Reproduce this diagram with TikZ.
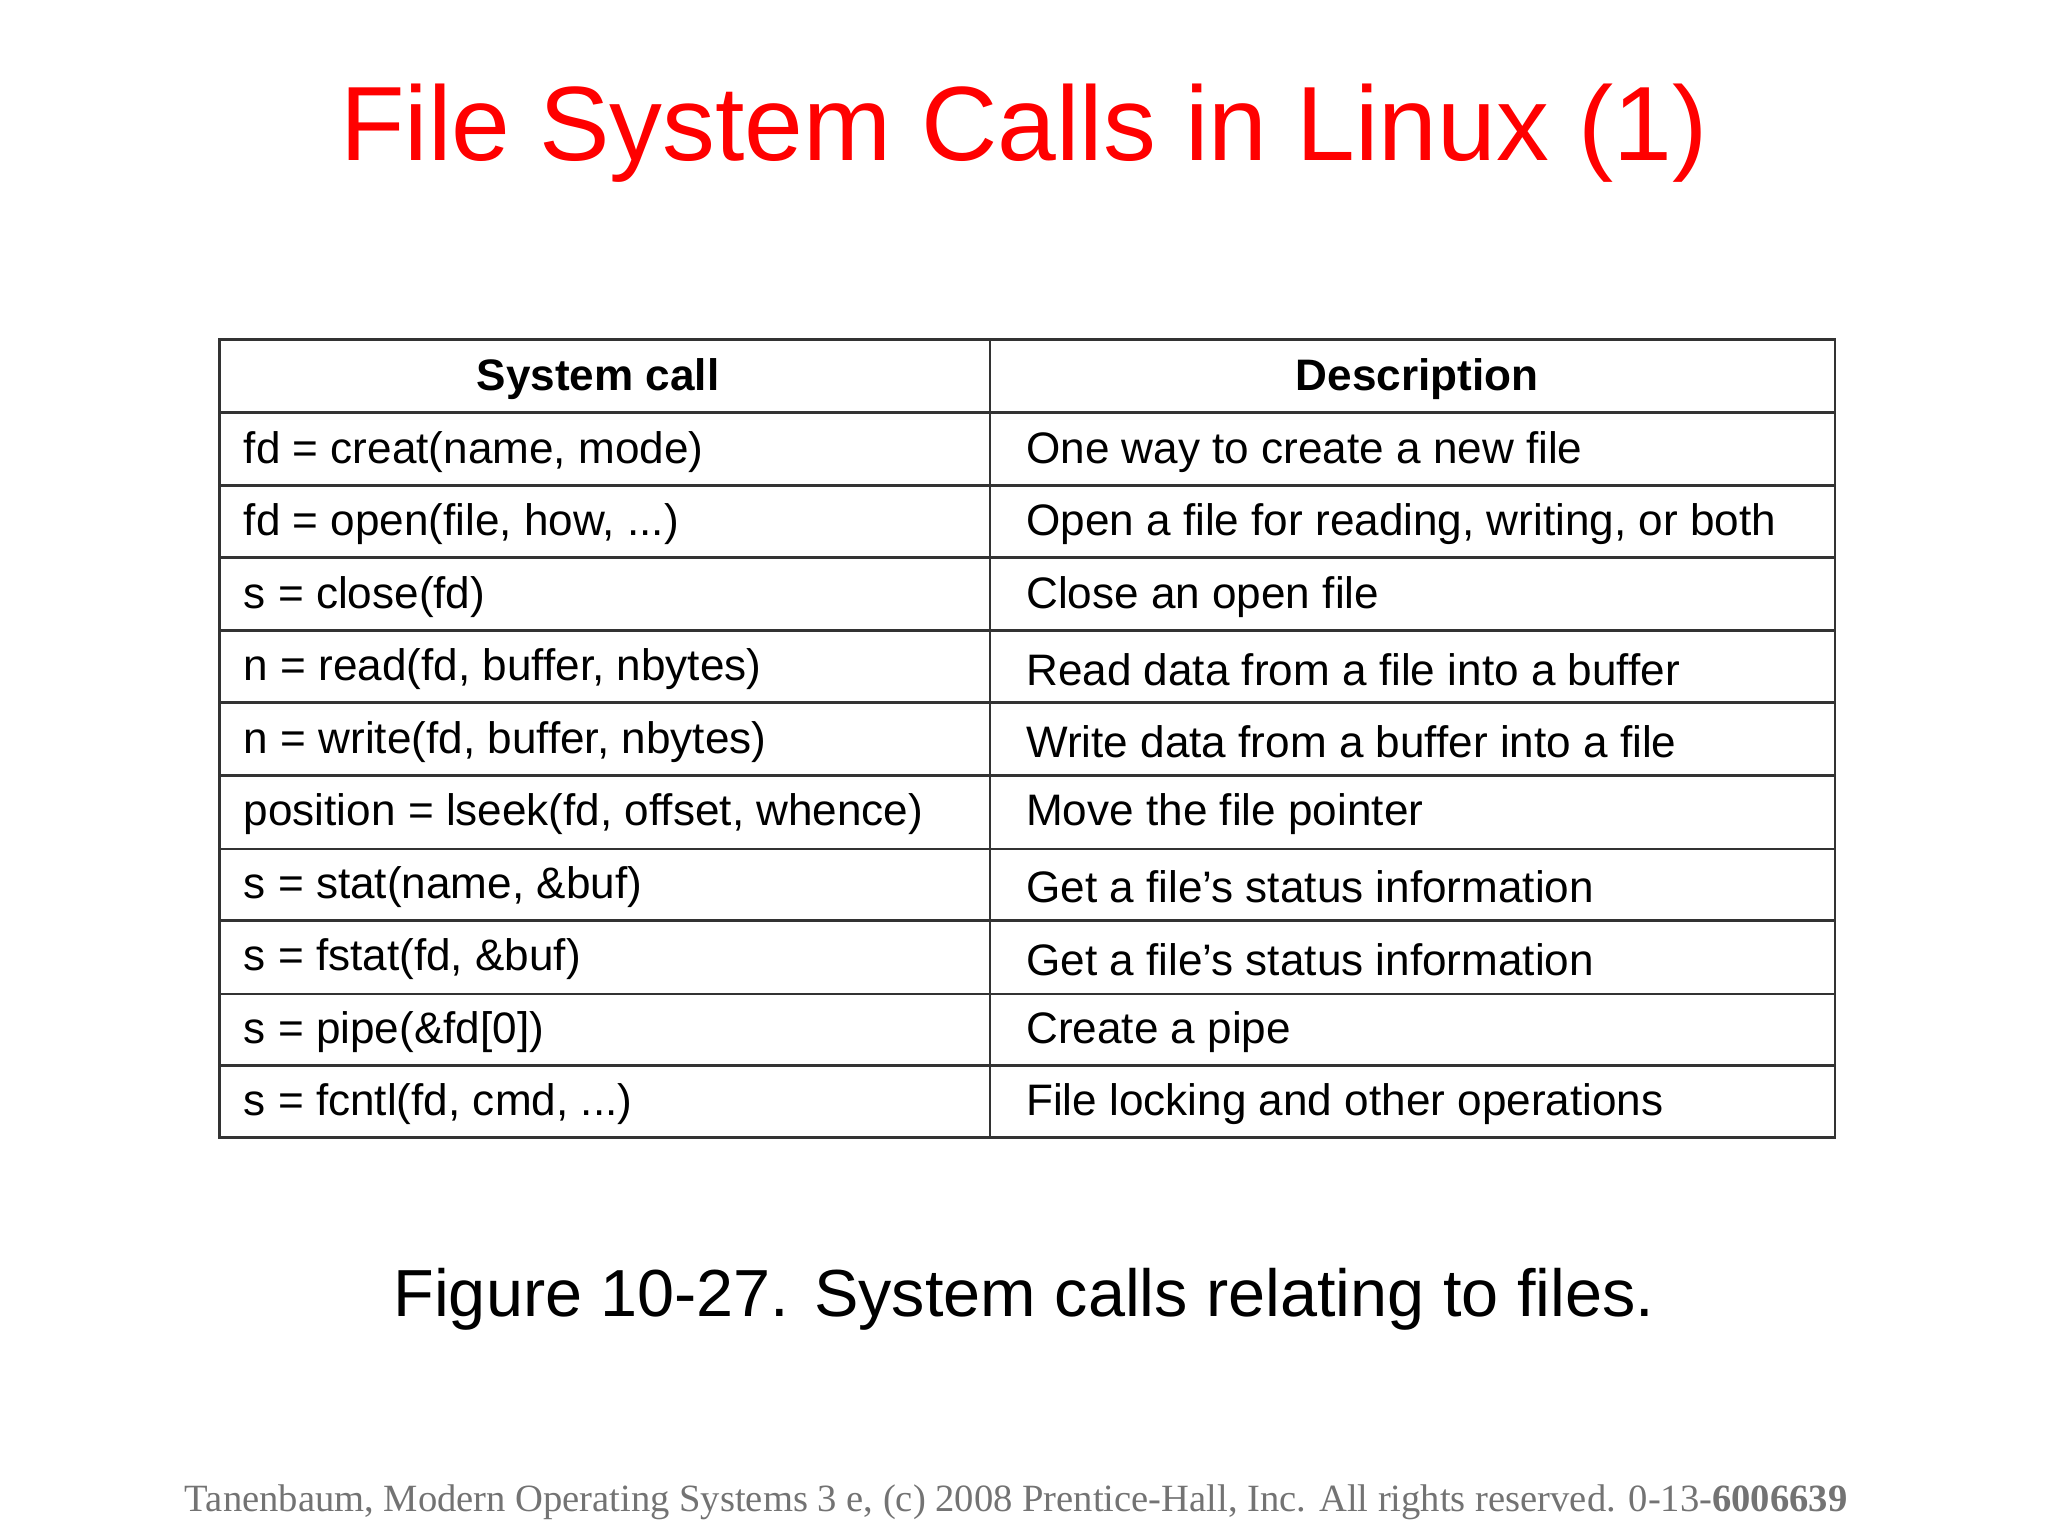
\documentclass[tikz,border=0pt]{standalone}
\usepackage{fontspec}
\setmainfont{Liberation Sans}
\newfontfamily\timesf{Liberation Serif}
\begin{document}
\begin{tikzpicture}[x=0.01cm,y=-0.01cm,
  cell/.style={anchor=west,inner sep=0pt,font=\fontsize{9.6}{11}\selectfont},
  head/.style={inner sep=0pt,font=\fontsize{9.6}{11}\selectfont\bfseries}]
\useasboundingbox (0,0) rectangle (1568,1176);
\node[text=red,inner sep=0pt,font=\fontsize{23}{26}\selectfont] (title) at (784,102) {File System Calls in Linux (1)};
\draw[line width=0.6pt,draw=black!80] (168,260) rectangle (1405,871);
\draw[line width=0.6pt,draw=black!80] (758,260) -- (758,871);
\foreach \y in {316,372,427,483,538,594,650,705,761,816}
  \draw[line width=0.6pt,draw=black!80] (168,\y) -- (1405,\y);
\node[head] (h1) at (458,290) {System call};
\node[head] (h2) at (1085,290) {Description};
\foreach \i/\a/\b in {
 0/{fd = creat(name, mode)}/{One way to create a new file},
 1/{fd = open(file, how, ...)}/{Open a file for reading, writing, or both},
 2/{s = close(fd)}/{Close an open file},
 3/{n = read(fd, buffer, nbytes)}/{Read data from a file into a buffer},
 4/{n = write(fd, buffer, nbytes)}/{Write data from a buffer into a file},
 5/{position = lseek(fd, offset, whence)}/{Move the file pointer},
 6/{s = stat(name, \&buf)}/{Get a file’s status information},
 7/{s = fstat(fd, \&buf)}/{Get a file’s status information},
 8/{s = pipe(\&fd[0])}/{Create a pipe},
 9/{s = fcntl(fd, cmd, ...)}/{File locking and other operations}}{
  \node[cell] (c\i) at (186,{346+55.5*\i}) {\a};
  \node[cell] (d\i) at (785,{346+55.5*\i}) {\b};
}
\node[inner sep=0pt,font=\fontsize{14.5}{17}\selectfont] (cap) at (784,995) {Figure 10-27. System calls relating to files.};
\node[inner sep=0pt,text=black!55,font=\timesf\fontsize{8.4}{10}\selectfont] (foot) at (778,1150) {Tanenbaum, Modern Operating Systems 3 e, (c) 2008 Prentice-Hall, Inc. All rights reserved. 0-13-\textbf{6006639}};
\end{tikzpicture}
\end{document}
